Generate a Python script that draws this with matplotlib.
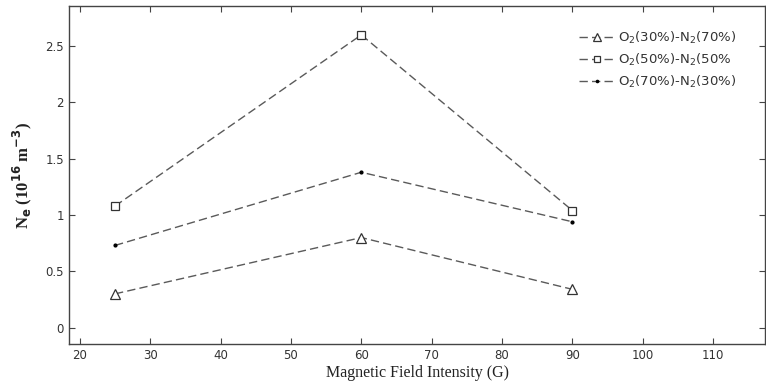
import numpy as np
import matplotlib
matplotlib.use("Agg")
import matplotlib.pyplot as plt

# field intensity (G)
field = [25, 60, 90]
# electron density, 10^16 m^-3
ne_30_70 = [0.30, 0.80, 0.34]
ne_50_50 = [1.08, 2.60, 1.04]
ne_70_30 = [0.73, 1.38, 0.94]

labels = ["O$_2$(30%)-N$_2$(70%)", "O$_2$(50%)-N$_2$(50%", "O$_2$(70%)-N$_2$(30%)"]
xticks = [20, 30, 40, 50, 60, 70, 80, 90, 100, 110]
yticks = [0, 0.5, 1, 1.5, 2, 2.5]

fig = plt.figure(figsize=(7.66, 3.85), dpi=100)
ax = fig.add_axes([0.090, 0.106, 0.909, 0.878])

dash = (0, (6, 3))
ax.plot(field, ne_30_70, color="#5a5a5a", lw=1, linestyle=dash, marker="^", ms=6.5,
        mfc="white", mec="#333333", mew=0.9, label=labels[0])
ax.plot(field, ne_50_50, color="#5a5a5a", lw=1, linestyle=dash, marker="s", ms=5.5,
        mfc="white", mec="#333333", mew=0.9, label=labels[1])
ax.plot(field, ne_70_30, color="#5a5a5a", lw=1, linestyle=dash, marker=".", ms=4,
        mfc="black", mec="black", label=labels[2])

ax.set_xlim(18.45, 117.4)
ax.set_ylim(-0.147, 2.855)
ax.set_xticks(xticks)
ax.set_yticks(yticks)
ax.set_yticklabels(["0", "0.5", "1", "1.5", "2", "2.5"])

ax.tick_params(direction="in", top=True, right=True, length=4, width=0.8,
               colors="#444444", labelsize=8.5, labelcolor="#333333")
for lab in ax.get_xticklabels() + ax.get_yticklabels():
    lab.set_family("DejaVu Sans")
for sp in ax.spines.values():
    sp.set_color("#444444")
    sp.set_linewidth(1)

ax.set_xlabel("Magnetic Field Intensity (G)", family="Liberation Serif", fontsize=11.5,
              color="#222222", labelpad=2)
ax.set_ylabel("N$_\\mathbf{e}$ (10$^\\mathbf{16}$ m$^\\mathbf{-3}$)", family="Liberation Serif",
              fontsize=12, fontweight="bold", color="#222222", labelpad=8)

leg = ax.legend(loc="upper right", bbox_to_anchor=(0.975, 0.965), frameon=False,
                handlelength=2.6, labelspacing=0.45, handletextpad=0.3, markerscale=0.8,
                prop={"family": "DejaVu Sans", "size": 9.5})
for t in leg.get_texts():
    t.set_color("#333333")

fig.savefig("out.png", dpi=100)
